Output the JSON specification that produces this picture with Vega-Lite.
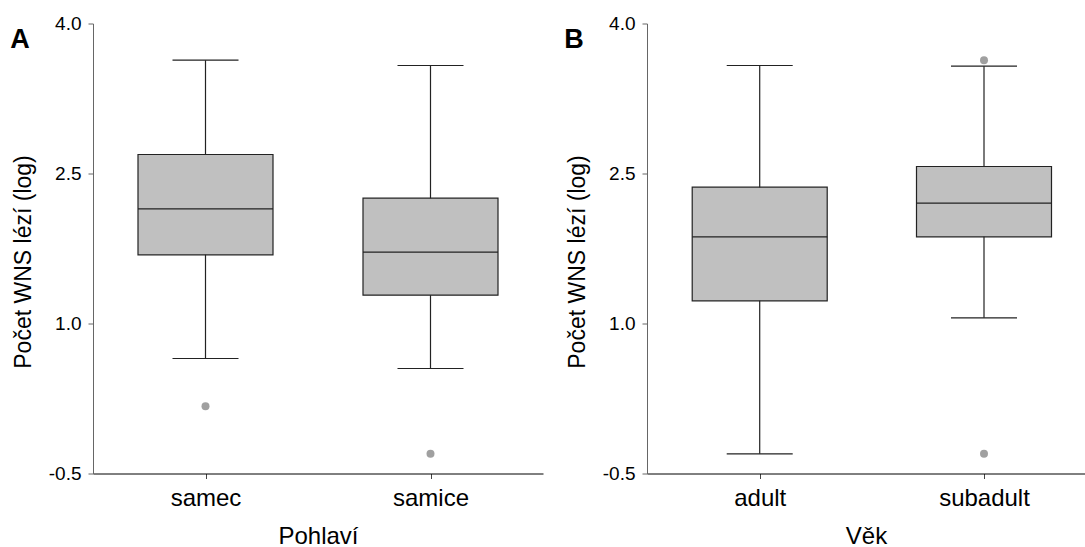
{
  "$schema": "https://vega.github.io/schema/vega-lite/v6.json",
  "padding": {"left": 10, "top": 14.5, "right": 0, "bottom": 0},
  "background": "white",
  "datasets": {
    "boxA": [
      {"cat": "samec", "lower": 0.65, "q1": 1.687, "median": 2.147, "q3": 2.69, "upper": 3.633},
      {"cat": "samice", "lower": 0.55, "q1": 1.283, "median": 1.713, "q3": 2.253, "upper": 3.58}
    ],
    "outA": [
      {"cat": "samec", "value": 0.173},
      {"cat": "samice", "value": -0.303}
    ],
    "boxB": [
      {"cat": "adult", "lower": -0.303, "q1": 1.227, "median": 1.867, "q3": 2.363, "upper": 3.58},
      {"cat": "subadult", "lower": 1.057, "q1": 1.867, "median": 2.203, "q3": 2.57, "upper": 3.573}
    ],
    "outB": [
      {"cat": "subadult", "value": 3.633},
      {"cat": "subadult", "value": -0.303}
    ]
  },
  "config": {
    "view": {"stroke": null},
    "font": "Liberation Sans",
    "axis": {"grid": false, "labelFont": "Liberation Sans", "titleFont": "Liberation Sans", "labelColor": "#000", "titleColor": "#000", "titleFontWeight": "normal"},
    "axisY": {"labelFontSize": 19, "titleFontSize": 23, "tickSize": 5, "labelPadding": 7, "titlePadding": 13, "titleY": 238, "domainColor": "#666", "tickColor": "#666", "labelExpr": "replace(format(datum.value, '.1f'), '\u2212', '-')"},
    "axisX": {"labelFontSize": 24, "titleFontSize": 24, "tickSize": 5, "labelPadding": 8, "titlePadding": 14, "domainColor": "#000", "tickColor": "#444", "labelAngle": 0},
    "title": {"font": "Liberation Sans", "fontSize": 27, "fontWeight": "bold", "color": "#000", "anchor": "start", "frame": "bounds", "offset": -39, "baseline": "alphabetic", "dx": -2}
  },
  "spacing": 21,
  "hconcat": [
    {
      "width": 450,
      "height": 450,
      "title": {"text": "A"},
      "encoding": {
        "x": {"field": "cat", "type": "nominal", "sort": ["samec", "samice"], "scale": {"type": "point", "padding": 0.5}, "axis": {"title": "Pohlaví"}}
      },
      "layer": [
        {
          "data": {"name": "boxA"},
          "mark": {"type": "rule", "color": "#222", "strokeWidth": 1.2},
          "encoding": {
            "y": {"field": "lower", "type": "quantitative", "scale": {"domain": [-0.5, 4], "nice": false, "zero": false}, "axis": {"values": [-0.5, 1, 2.5, 4]}, "title": "Počet WNS lézí (log)"},
            "y2": {"field": "upper"}
          }
        },
        {
          "data": {"name": "boxA"},
          "mark": {"type": "bar", "width": 135, "fill": "#c0c0c0", "stroke": "#222", "strokeWidth": 1.2},
          "encoding": {
            "y": {"field": "q1", "type": "quantitative", "title": "Počet WNS lézí (log)"},
            "y2": {"field": "q3"}
          }
        },
        {
          "data": {"name": "boxA"},
          "mark": {"type": "tick", "size": 135, "thickness": 1.2, "color": "#222", "opacity": 1},
          "encoding": {"y": {"field": "median", "type": "quantitative", "title": "Počet WNS lézí (log)"}}
        },
        {
          "data": {"name": "boxA"},
          "mark": {"type": "tick", "size": 66, "thickness": 1.2, "color": "#222", "opacity": 1},
          "encoding": {"y": {"field": "lower", "type": "quantitative", "title": "Počet WNS lézí (log)"}}
        },
        {
          "data": {"name": "boxA"},
          "mark": {"type": "tick", "size": 66, "thickness": 1.2, "color": "#222", "opacity": 1},
          "encoding": {"y": {"field": "upper", "type": "quantitative", "title": "Počet WNS lézí (log)"}}
        },
        {
          "data": {"name": "outA"},
          "mark": {"type": "point", "filled": true, "color": "#a0a0a0", "size": 64, "opacity": 1},
          "encoding": {"y": {"field": "value", "type": "quantitative", "title": "Počet WNS lézí (log)"}}
        }
      ]
    },
    {
      "width": 438,
      "height": 450,
      "title": {"text": "B"},
      "encoding": {
        "x": {"field": "cat", "type": "nominal", "sort": ["adult", "subadult"], "scale": {"type": "point", "padding": 0.4764, "align": 0.5274}, "axis": {"title": "Věk"}}
      },
      "layer": [
        {
          "data": {"name": "boxB"},
          "mark": {"type": "rule", "color": "#222", "strokeWidth": 1.2},
          "encoding": {
            "y": {"field": "lower", "type": "quantitative", "scale": {"domain": [-0.5, 4], "nice": false, "zero": false}, "axis": {"values": [-0.5, 1, 2.5, 4]}, "title": "Počet WNS lézí (log)"},
            "y2": {"field": "upper"}
          }
        },
        {
          "data": {"name": "boxB"},
          "mark": {"type": "bar", "width": 135, "fill": "#c0c0c0", "stroke": "#222", "strokeWidth": 1.2},
          "encoding": {
            "y": {"field": "q1", "type": "quantitative", "title": "Počet WNS lézí (log)"},
            "y2": {"field": "q3"}
          }
        },
        {
          "data": {"name": "boxB"},
          "mark": {"type": "tick", "size": 135, "thickness": 1.2, "color": "#222", "opacity": 1},
          "encoding": {"y": {"field": "median", "type": "quantitative", "title": "Počet WNS lézí (log)"}}
        },
        {
          "data": {"name": "boxB"},
          "mark": {"type": "tick", "size": 66, "thickness": 1.2, "color": "#222", "opacity": 1},
          "encoding": {"y": {"field": "lower", "type": "quantitative", "title": "Počet WNS lézí (log)"}}
        },
        {
          "data": {"name": "boxB"},
          "mark": {"type": "tick", "size": 66, "thickness": 1.2, "color": "#222", "opacity": 1},
          "encoding": {"y": {"field": "upper", "type": "quantitative", "title": "Počet WNS lézí (log)"}}
        },
        {
          "data": {"name": "outB"},
          "mark": {"type": "point", "filled": true, "color": "#a0a0a0", "size": 64, "opacity": 1},
          "encoding": {"y": {"field": "value", "type": "quantitative", "title": "Počet WNS lézí (log)"}}
        }
      ]
    }
  ]
}
